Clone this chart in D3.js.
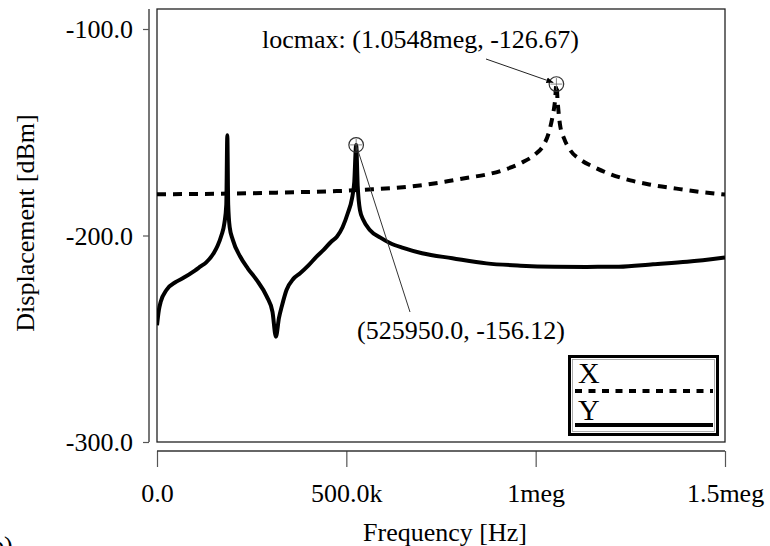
<!DOCTYPE html>
<html><head><meta charset="utf-8">
<script src="https://cdn.jsdelivr.net/npm/d3@7"></script>
<style>
html,body{margin:0;padding:0;background:#fff;}
svg{display:block;}
</style>
</head><body>
<svg id="c" width="770" height="546"></svg>
<script>
// ---- data (frequency in Hz, displacement in dBm) ----
const seriesNames = ["X", "Y"];
const xFreq = [0,100e3,200e3,300e3,400e3,475e3,550e3,625e3,700e3,760e3,820e3,870e3,920e3,960e3,1000e3,1020e3,1035e3,1045e3,1051e3,1054.8e3,1058e3,1064e3,1075e3,1091e3,1120e3,1150e3,1200e3,1250e3,1300e3,1372e3,1430e3,1500e3];
const xDisp = [-180,-179.9,-179.7,-179.3,-178.9,-178.5,-177.8,-177,-175.6,-174,-172,-170.5,-168,-165,-160.5,-156.5,-150,-142,-135,-126.67,-135,-146,-153,-158.6,-163.5,-166.5,-170.5,-173.3,-175.3,-177.3,-178.8,-180.2];
const yFreq = [0,5e3,10e3,25e3,50e3,70e3,100e3,115e3,130e3,150e3,160e3,170e3,178e3,183e3,185.7e3,188e3,192e3,200e3,220e3,240e3,263e3,290e3,305e3,314e3,322e3,330e3,342e3,360e3,378e3,400e3,420e3,440e3,460e3,475e3,490e3,504e3,515e3,521e3,525.95e3,530e3,536e3,545e3,562e3,590e3,615e3,650e3,700e3,780e3,870e3,960e3,1050e3,1135e3,1220e3,1310e3,1400e3,1500e3];
const yDisp = [-243.5,-236,-232,-226.4,-222.5,-220.5,-217,-215,-213,-208.5,-205,-200,-194,-185,-151.5,-185,-196,-202,-210.3,-216,-221.5,-229.6,-237,-249,-240,-234,-226.4,-221,-218.3,-214.5,-210.5,-207,-203,-200.6,-196,-189.1,-182,-174,-156.12,-176,-187.7,-192.5,-197.3,-201,-203.6,-206,-208.6,-211,-213.5,-214.6,-215.1,-215.2,-215.1,-213.9,-212.7,-210.6];
const xTickValues = [0, 500e3, 1e6, 1.5e6];
const xTickLabels = ["0.0", "500.0k", "1meg", "1.5meg"];
const yTickValues = [-100, -200, -300];
const yTickLabels = ["-100.0", "-200.0", "-300.0"];
const markers = [
  {f: 1054.8e3, v: -126.67, label: "locmax: (1.0548meg, -126.67)"},
  {f: 525950, v: -156.12, label: "(525950.0, -156.12)"}
];

// ---- layout ----
const svg = d3.select("#c");
const FONT = '"Liberation Serif", "Times New Roman", serif';
const L = 157, R = 725, T = 9, B = 442;
const x = d3.scaleLinear().domain([0, 1.5e6]).range([L, R]);
const y = d3.scaleLinear().domain([-300, -100]).range([B, 29]);
const txt = (sel, size) => sel.style("font-family", FONT).style("font-size", size + "px").attr("fill", "#000");

svg.append("defs").append("clipPath").attr("id","clip")
  .append("rect").attr("x", L).attr("y", T).attr("width", R-L).attr("height", B-T);
const mk = svg.select("defs").append("marker").attr("id","arr")
  .attr("viewBox","0 0 10 10").attr("refX",10).attr("refY",5)
  .attr("markerWidth",7).attr("markerHeight",7).attr("orient","auto");
mk.append("path").attr("d","M0,1 L10,5 L0,9 z").attr("fill","#000");

// frame
svg.append("rect").attr("x", L).attr("y", T).attr("width", R-L).attr("height", B-T)
  .attr("fill","none").attr("stroke","#222").attr("stroke-width",1.3);

// y axis
const yAxis = d3.axisLeft(y).tickValues(yTickValues)
  .tickFormat((d,i)=>yTickLabels[i]).tickSize(6).tickSizeOuter(0);
const gy = svg.append("g").attr("transform","translate(149,0)").call(yAxis);
gy.select(".domain").remove();
gy.append("line").attr("x1",0).attr("x2",0).attr("y1",T).attr("y2",B)
  .attr("stroke","#555").attr("stroke-width",1.6);
gy.selectAll(".tick line").attr("stroke","#555").attr("stroke-width",1.2);
txt(gy.selectAll(".tick text").attr("x",-16).attr("dy","0.34em"), 26);

// x axis
const xAxis = d3.axisBottom(x).tickValues(xTickValues)
  .tickFormat((d,i)=>xTickLabels[i]).tickSize(16).tickSizeOuter(0);
const gx = svg.append("g").attr("transform","translate(0,451)").call(xAxis);
gx.select(".domain").remove();
gx.append("line").attr("x1",L).attr("x2",R).attr("y1",0).attr("y2",0)
  .attr("stroke","#333").attr("stroke-width",1.4);
gx.selectAll(".tick line").attr("stroke","#555").attr("stroke-width",1.2);
txt(gx.selectAll(".tick text").attr("y",51).attr("dy",0), 26);

// axis titles
txt(svg.append("text").attr("x",445).attr("y",541).attr("text-anchor","middle").text("Frequency [Hz]"), 26);
txt(svg.append("text").attr("transform","translate(33.5,223) rotate(-90)").attr("text-anchor","middle").text("Displacement [dBm]"), 26);

// curves
const line = d3.line().x(d=>x(d[0])).y(d=>y(d[1])).curve(d3.curveMonotoneX);
const plot = svg.append("g").attr("clip-path","url(#clip)");
plot.append("path").datum(yFreq.map((f,i)=>[f,yDisp[i]])).attr("d",line)
  .attr("fill","none").attr("stroke","#000").attr("stroke-width",4).attr("stroke-linejoin","round");
plot.append("path").datum(xFreq.map((f,i)=>[f,xDisp[i]])).attr("d",line)
  .attr("fill","none").attr("stroke","#000").attr("stroke-width",4).attr("stroke-dasharray","9,7");

// markers
markers.forEach(m=>{
  const cx = x(m.f), cy = y(m.v);
  svg.append("circle").attr("cx",cx).attr("cy",cy).attr("r",7.3)
    .attr("fill","none").attr("stroke","#333").attr("stroke-width",1.2);
  svg.append("line").attr("x1",cx-6).attr("x2",cx+6).attr("y1",cy).attr("y2",cy).attr("stroke","#666").attr("stroke-width",0.8);
  svg.append("line").attr("x1",cx).attr("x2",cx).attr("y1",cy-6).attr("y2",cy+6).attr("stroke","#666").attr("stroke-width",0.8);
});
// annotation 1 (locmax)
{
  const m = markers[0], cx = x(m.f), cy = y(m.v);
  svg.append("line").attr("x1",486).attr("y1",59).attr("x2",cx-3).attr("y2",cy-1.5)
    .attr("stroke","#222").attr("stroke-width",1).attr("marker-end","url(#arr)");
  txt(svg.append("text").attr("x",262).attr("y",48).text(m.label), 26);
}
// annotation 2
{
  const m = markers[1], cx = x(m.f), cy = y(m.v);
  svg.append("line").attr("x1",cx).attr("y1",cy).attr("x2",410).attr("y2",312)
    .attr("stroke","#333").attr("stroke-width",1);
  txt(svg.append("text").attr("x",357).attr("y",339).text(m.label), 26);
}

// legend
const lg = svg.append("g");
lg.append("rect").attr("x",569.5).attr("y",356.5).attr("width",148).attr("height",78)
  .attr("fill","#fff").attr("stroke","#000").attr("stroke-width",3);
lg.append("rect").attr("x",572.5).attr("y",359.5).attr("width",142).attr("height",72)
  .attr("fill","none").attr("stroke","#999").attr("stroke-width",0.8);
txt(lg.append("text").attr("x",578).attr("y",383).text(seriesNames[0]), 30);
lg.append("line").attr("x1",575).attr("x2",713).attr("y1",391).attr("y2",391)
  .attr("stroke","#000").attr("stroke-width",4).attr("stroke-dasharray","7,6.5");
txt(lg.append("text").attr("x",578).attr("y",420).text(seriesNames[1]), 30);
lg.append("line").attr("x1",575).attr("x2",713).attr("y1",425).attr("y2",425)
  .attr("stroke","#000").attr("stroke-width",4);

// clipped panel tag at bottom-left (partly outside the picture, as in the reference)
txt(svg.append("text").attr("x",-9).attr("y",554).text("b)"), 26);
</script>
</body></html>
